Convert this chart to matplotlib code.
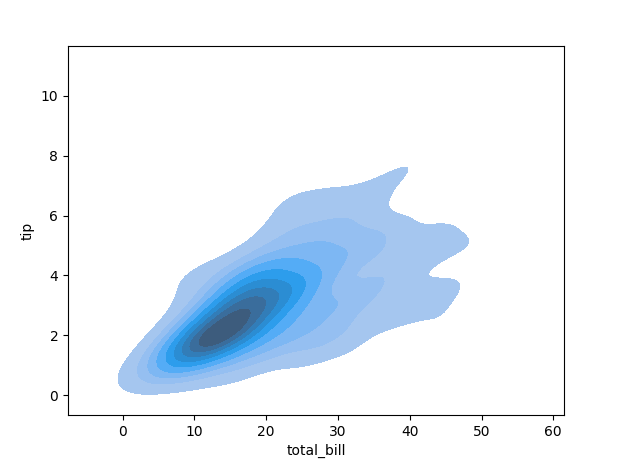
import math
import numpy as np
import matplotlib
matplotlib.use("Agg")
import matplotlib.pyplot as plt
from matplotlib.colors import ListedColormap, to_rgba

# Raw observations (restaurant tips data): total bill and tip
total_bill = [
    16.99, 10.34, 21.01, 23.68, 24.59, 25.29, 8.77, 26.88, 15.04, 14.78,
    10.27, 35.26, 15.42, 18.43, 14.83, 21.58, 10.33, 16.29, 16.97, 20.65,
    17.92, 20.29, 15.77, 39.42, 19.82, 17.81, 13.37, 12.69, 21.70, 19.65,
    9.55, 18.35, 15.06, 20.69, 17.78, 24.06, 16.31, 16.93, 18.69, 31.27,
    16.04, 17.46, 13.94, 9.68, 30.40, 18.29, 22.23, 32.40, 28.55, 18.04,
    12.54, 10.29, 34.81, 9.94, 25.56, 19.49, 38.01, 26.41, 11.24, 48.27,
    20.29, 13.81, 11.02, 18.29, 17.59, 20.08, 16.45, 3.07, 20.23, 15.01,
    12.02, 17.07, 26.86, 25.28, 14.73, 10.51, 17.92, 27.20, 22.76, 17.29,
    19.44, 16.66, 10.07, 32.68, 15.98, 34.83, 13.03, 18.28, 24.71, 21.16,
    28.97, 22.49, 5.75, 16.32, 22.75, 40.17, 27.28, 12.03, 21.01, 12.46,
    11.35, 15.38, 44.30, 22.42, 20.92, 15.36, 20.49, 25.21, 18.24, 14.31,
    14.00, 7.25, 38.07, 23.95, 25.71, 17.31, 29.93, 10.65, 12.43, 24.08,
    11.69, 13.42, 14.26, 15.95, 12.48, 29.80, 8.52, 14.52, 11.38, 22.82,
    19.08, 20.27, 11.17, 12.26, 18.26, 8.51, 10.33, 14.15, 16.00, 13.16,
    17.47, 34.30, 41.19, 27.05, 16.43, 8.35, 18.64, 11.87, 9.78, 7.51,
    14.07, 13.13, 17.26, 24.55, 19.77, 29.85, 48.17, 25.00, 13.39, 16.49,
    21.50, 12.66, 16.21, 13.81, 17.51, 24.52, 20.76, 31.71, 10.59, 10.63,
    50.81, 15.81, 7.25, 31.85, 16.82, 32.90, 17.89, 14.48, 9.60, 34.63,
    34.65, 23.33, 45.35, 23.17, 40.55, 20.69, 20.90, 30.46, 18.15, 23.10,
    15.69, 19.81, 28.44, 15.48, 16.58, 7.56, 10.34, 43.11, 13.00, 13.51,
    18.71, 12.74, 13.00, 16.40, 20.53, 16.47, 26.59, 38.73, 24.27, 12.76,
    30.06, 25.89, 48.33, 13.27, 28.17, 12.90, 28.15, 11.59, 7.74, 30.14,
    12.16, 13.42, 8.58, 15.98, 13.42, 16.27, 10.09, 20.45, 13.28, 22.12,
    24.01, 15.69, 11.61, 10.77, 15.53, 10.07, 12.60, 32.83, 35.83, 29.03,
    27.18, 22.67, 17.82, 18.78,
]
tip = [
    1.01, 1.66, 3.50, 3.31, 3.61, 4.71, 2.00, 3.12, 1.96, 3.23,
    1.71, 5.00, 1.57, 3.00, 3.02, 3.92, 1.67, 3.71, 3.50, 3.35,
    4.08, 2.75, 2.23, 7.58, 3.18, 2.34, 2.00, 2.00, 4.30, 3.00,
    1.45, 2.50, 3.00, 2.45, 3.27, 3.60, 2.00, 3.07, 2.31, 5.00,
    2.24, 2.54, 3.06, 1.32, 5.60, 3.00, 5.00, 6.00, 2.05, 3.00,
    2.50, 2.60, 5.20, 1.56, 4.34, 3.51, 3.00, 1.50, 1.76, 6.73,
    3.21, 2.00, 1.98, 3.76, 2.64, 3.15, 2.47, 1.00, 2.01, 2.09,
    1.97, 3.00, 3.14, 5.00, 2.20, 1.25, 3.08, 4.00, 3.00, 2.71,
    3.00, 3.40, 1.83, 5.00, 2.03, 5.17, 2.00, 4.00, 5.85, 3.00,
    3.00, 3.50, 1.00, 4.30, 3.25, 4.73, 4.00, 1.50, 3.00, 1.50,
    2.50, 3.00, 2.50, 3.48, 4.08, 1.64, 4.06, 4.29, 3.76, 4.00,
    3.00, 1.00, 4.00, 2.55, 4.00, 3.50, 5.07, 1.50, 1.80, 2.92,
    2.31, 1.68, 2.50, 2.00, 2.52, 4.20, 1.48, 2.00, 2.00, 2.18,
    1.50, 2.83, 1.50, 2.00, 3.25, 1.25, 2.00, 2.00, 2.00, 2.75,
    3.50, 6.70, 5.00, 5.00, 2.30, 1.50, 1.36, 1.63, 1.73, 2.00,
    2.50, 2.00, 2.74, 2.00, 2.00, 5.14, 5.00, 3.75, 2.61, 2.00,
    3.50, 2.50, 2.00, 2.00, 3.00, 3.48, 2.24, 4.50, 1.61, 2.00,
    10.00, 3.16, 5.15, 3.18, 4.00, 3.11, 2.00, 2.00, 4.00, 3.55,
    3.68, 5.65, 3.50, 6.50, 3.00, 5.00, 3.50, 2.00, 3.50, 4.00,
    1.50, 4.19, 2.56, 2.02, 4.00, 1.44, 2.00, 5.00, 2.00, 2.00,
    4.00, 2.01, 2.00, 2.50, 4.00, 3.23, 3.41, 3.00, 2.03, 2.23,
    2.00, 5.16, 9.00, 2.50, 6.50, 1.10, 3.00, 1.50, 1.44, 3.09,
    2.20, 3.48, 1.92, 3.00, 1.58, 2.50, 2.00, 3.00, 2.72, 2.88,
    2.00, 3.00, 3.39, 1.47, 3.00, 1.25, 1.00, 1.17, 4.67, 5.92,
    2.00, 2.00, 1.75, 3.00,
]

# ---------------- HUSL helpers (for the sequential colormap) ----------------
_m = [[3.2406, -1.5372, -0.4986],
      [-0.9689, 1.8758, 0.0415],
      [0.0557, -0.2040, 1.0570]]
_m_inv = [[0.4124, 0.3576, 0.1805],
          [0.2126, 0.7152, 0.0722],
          [0.0193, 0.1192, 0.9505]]
_refY = 1.0
_refU = 0.19784
_refV = 0.46834
_lab_e = 0.008856
_lab_k = 903.3


def _max_chroma(L, H):
    hrad = math.radians(H)
    sinH, cosH = math.sin(hrad), math.cos(hrad)
    sub1 = math.pow(L + 16, 3.0) / 1560896.0
    sub2 = sub1 if sub1 > 0.008856 else (L / 903.3)
    result = float("inf")
    for m1, m2, m3 in _m:
        top = (0.99915 * m1 + 1.05122 * m2 + 1.14460 * m3) * sub2
        rbottom = 0.86330 * m3 - 0.17266 * m2
        lbottom = 0.12949 * m3 - 0.38848 * m1
        bottom = (rbottom * sinH + lbottom * cosH) * sub2
        for t in (0.0, 1.0):
            C = L * (top - 1.05122 * t) / (bottom + 0.17266 * sinH * t)
            if 0.0 < C < result:
                result = C
    return result


def _f(t):
    return math.pow(t, 1.0 / 3.0) if t > _lab_e else (7.787 * t + 16.0 / 116.0)


def _f_inv(t):
    return math.pow(t, 3.0) if math.pow(t, 3.0) > _lab_e else (116.0 * t - 16.0) / _lab_k


def _to_linear(c):
    a = 0.055
    return math.pow((c + a) / (1 + a), 2.4) if c > 0.04045 else c / 12.92


def _from_linear(c):
    return 12.92 * c if c <= 0.0031308 else 1.055 * math.pow(c, 1 / 2.4) - 0.055


def rgb_to_husl(r, g, b):
    rgbl = [_to_linear(c) for c in (r, g, b)]
    X, Y, Z = [sum(row[i] * rgbl[i] for i in range(3)) for row in _m_inv]
    varU = 4.0 * X / (X + 15.0 * Y + 3.0 * Z)
    varV = 9.0 * Y / (X + 15.0 * Y + 3.0 * Z)
    L = 116.0 * _f(Y / _refY) - 16.0
    U = 13.0 * L * (varU - _refU)
    V = 13.0 * L * (varV - _refV)
    C = math.sqrt(U ** 2 + V ** 2)
    H = math.degrees(math.atan2(V, U))
    if H < 0:
        H += 360
    S = C / _max_chroma(L, H) * 100.0
    return H, S, L


def husl_to_rgb(h, s, l):
    if l > 99.9999999:
        L, C, H = 100.0, 0.0, h
    elif l < 1e-8:
        L, C, H = 0.0, 0.0, h
    else:
        L, C, H = l, _max_chroma(l, h) / 100.0 * s, h
    hrad = math.radians(H)
    U, V = math.cos(hrad) * C, math.sin(hrad) * C
    if L == 0:
        return [0.0, 0.0, 0.0]
    varY = _f_inv((L + 16.0) / 116.0)
    varU = U / (13.0 * L) + _refU
    varV = V / (13.0 * L) + _refV
    Y = varY * _refY
    X = 0.0 - (9.0 * Y * varU) / ((varU - 4.0) * varV - varU * varV)
    Z = (9.0 * Y - (15.0 * varV * Y) - (varV * X)) / (3.0 * varV)
    return [_from_linear(sum(row[i] * v for i, v in enumerate((X, Y, Z)))) for row in _m]


def cmap_from_color(color):
    r, g, b, _ = to_rgba(color)
    h, s, _ = rgb_to_husl(r, g, b)
    xx = np.linspace(-1, 1, int(1.15 * 256))[:256]
    ramp = np.zeros((256, 3))
    ramp[:, 0] = h
    ramp[:, 1] = s * np.cos(xx)
    ramp[:, 2] = np.linspace(35, 80, 256)
    colors = np.clip([husl_to_rgb(*hsl) for hsl in ramp], 0, 1)
    return ListedColormap(colors[::-1])


# ---------------- Gaussian KDE (Scott bandwidth) ----------------
data = np.vstack([np.asarray(total_bill, float), np.asarray(tip, float)])
n = data.shape[1]
factor = n ** (-1.0 / 6.0)
cov = np.cov(data) * factor ** 2
inv_cov = np.linalg.inv(cov)
bw = np.sqrt(np.diag(cov))
cut = 3
gridsize = 200
gx = np.linspace(data[0].min() - bw[0] * cut, data[0].max() + bw[0] * cut, gridsize)
gy = np.linspace(data[1].min() - bw[1] * cut, data[1].max() + bw[1] * cut, gridsize)
XX, YY = np.meshgrid(gx, gy)
pts = np.vstack([XX.ravel(), YY.ravel()])
diff = pts[:, :, None] - data[:, None, :]
q = np.einsum("ipn,ij,jpn->pn", diff, inv_cov, diff)
density = np.exp(-0.5 * q).sum(axis=1) / (n * 2 * np.pi * np.sqrt(np.linalg.det(cov)))
density = density.reshape(XX.shape)

# iso-proportion levels
thresh = 0.05
n_levels = 10
iso = np.linspace(thresh, 1, n_levels)
sorted_vals = np.sort(density.ravel())[::-1]
norm_vals = np.cumsum(sorted_vals) / density.sum()
idx = np.searchsorted(norm_vals, 1 - iso)
levels = np.take(sorted_vals, idx, mode="clip")

# ---------------- Plot ----------------
fig = plt.figure(figsize=(6.2, 4.7), dpi=100)
ax = fig.add_axes([68 / 620, (470 - 415) / 470, 496 / 620, 369 / 470])
ax.contourf(XX, YY, density, levels=levels, cmap=cmap_from_color("C0"))
ax.set_xlim(gx[0], gx[-1])
ax.set_ylim(gy[0], gy[-1])
ax.set_xlabel("total_bill")
ax.set_ylabel("tip")
fig.savefig("out.png", dpi=100)
